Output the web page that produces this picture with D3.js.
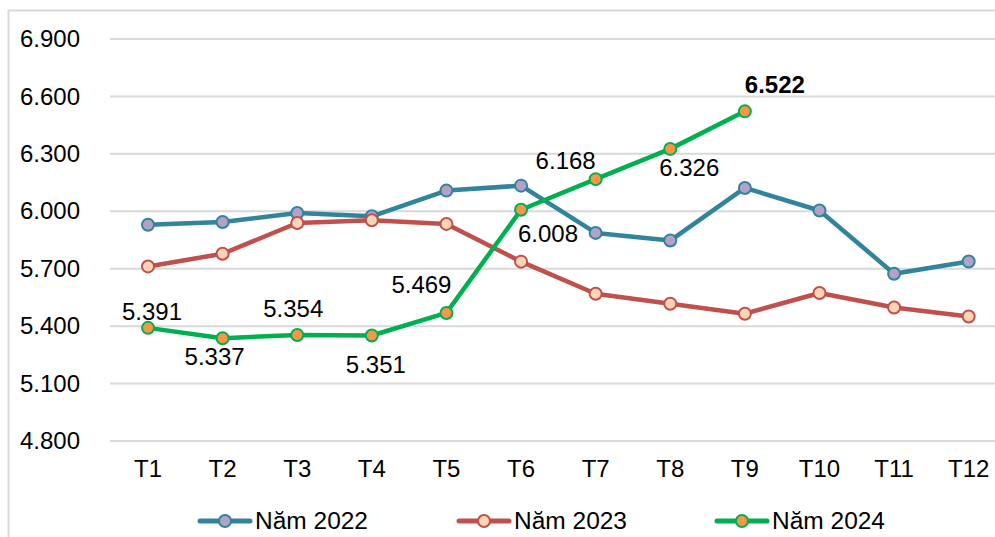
<!DOCTYPE html>
<html><head><meta charset="utf-8">
<script src="https://cdn.jsdelivr.net/npm/d3@7/dist/d3.min.js"></script>
<style>body{margin:0;background:#fff}svg{display:block;font-family:Arial,"Liberation Sans",sans-serif}</style>
</head><body><svg id="c" width="995" height="537"></svg>
<script>
const months = ["T1","T2","T3","T4","T5","T6","T7","T8","T9","T10","T11","T12"];
const yTicks = [4800,5100,5400,5700,6000,6300,6600,6900];
const seriesNames = ["Năm 2022","Năm 2023","Năm 2024"];
const v2022 = [5930,5944,5991,5974,6108,6134,5887,5847,6122,6004,5674,5738];
const v2023 = [5712,5778,5939,5953,5934,5737,5569,5517,5465,5573,5497,5450];
const v2024 = [5391,5337,5354,5351,5469,6008,6168,6326,6522];
// label placement offsets for 2024 values (dx, dy)
const labelOffsets = [[4,-8],[-8,27],[-4,-18],[4,37],[-25,-20],[27,32],[-30,-10],[19,27],[30,-18]];

const styles = [
  {line:"#31849b", fill:"#b3a2c7"},
  {line:"#c0504d", fill:"#fcd5b5"},
  {line:"#00b050", fill:"#f79646"}
];
const data = [v2022, v2023, v2024];
const fmt3 = v => (v/1000).toFixed(3);

const svg = d3.select("#c");
// chart border
svg.append("path").attr("d","M8.5,537 V10.5 H995").attr("fill","none").attr("stroke","#d9d9d9").attr("stroke-width",2);

const x = d3.scaleBand().domain(months).range([110.7, 1006]);
const y = d3.scaleLinear().domain([4800,6900]).range([441,39]);

const g = svg.append("g");
// gridlines
g.selectAll("line.grid").data(yTicks).join("line")
  .attr("x1",110).attr("x2",995)
  .attr("y1",d=>y(d)).attr("y2",d=>y(d))
  .attr("stroke","#d9d9d9").attr("stroke-width",2);

// y axis labels
const yAxis = d3.axisLeft(y).tickValues(yTicks).tickFormat(fmt3).tickSize(0).tickPadding(0);
const ya = svg.append("g").attr("transform","translate(80,0)").call(yAxis);
ya.select(".domain").remove();
ya.selectAll("text").attr("font-size",24).attr("fill","#000").attr("font-family","Arial, 'Liberation Sans', sans-serif").attr("dy","0.32em");

// x axis labels
const xAxis = d3.axisBottom(x).tickSize(0).tickPadding(0);
const xa = svg.append("g").attr("transform","translate(0,460)").call(xAxis);
xa.select(".domain").remove();
xa.selectAll("text").attr("font-size",24).attr("fill","#000").attr("font-family","Arial, 'Liberation Sans', sans-serif").attr("dy","0.71em");

const cx = (d,i) => x(months[i]) + x.bandwidth()/2;
const line = d3.line().x((d,i)=>cx(d,i)).y(d=>y(d));

data.forEach((vals, si) => {
  const s = styles[si];
  g.append("path").datum(vals).attr("d",line).attr("fill","none")
    .attr("stroke",s.line).attr("stroke-width",4.5).attr("stroke-linejoin","round");
  g.selectAll("circle.s"+si).data(vals).join("circle")
    .attr("cx",(d,i)=>cx(d,i)).attr("cy",d=>y(d)).attr("r",6)
    .attr("fill",s.fill).attr("stroke",s.line).attr("stroke-width",2);
});

// data labels 2024
g.selectAll("text.lbl").data(v2024).join("text")
  .attr("x",(d,i)=>cx(d,i)+labelOffsets[i][0])
  .attr("y",(d,i)=>y(d)+labelOffsets[i][1])
  .attr("text-anchor","middle").attr("font-size",24)
  .attr("font-weight",(d,i)=>i===v2024.length-1?"bold":"normal")
  .attr("fill","#000").text(d=>fmt3(d));

// legend
const legX = [198, 457, 715];
const leg = svg.append("g");
seriesNames.forEach((n,i)=>{
  const s = styles[i];
  const lg = leg.append("g").attr("transform",`translate(${legX[i]},521)`);
  lg.append("line").attr("x1",2).attr("x2",52).attr("stroke",s.line).attr("stroke-width",5).attr("stroke-linecap","round");
  lg.append("circle").attr("cx",27).attr("r",6).attr("fill",s.fill).attr("stroke",s.line).attr("stroke-width",2);
  lg.append("text").attr("x",57).attr("y",7.5).attr("font-size",23).attr("fill","#000")
    .attr("textLength",113).attr("lengthAdjust","spacingAndGlyphs").text(n);
});
</script></body></html>
